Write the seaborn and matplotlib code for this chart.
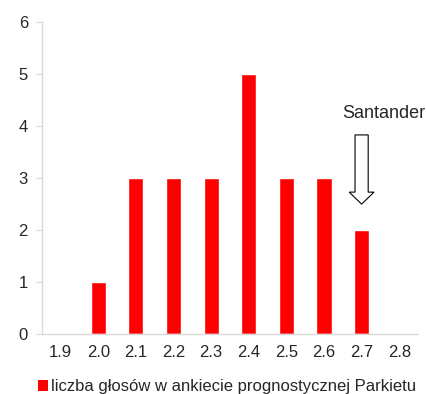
import matplotlib
matplotlib.use("Agg")
import matplotlib.pyplot as plt
import seaborn as sns
from matplotlib.patches import Patch, FancyArrow

# data
rates = ["1.9", "2.0", "2.1", "2.2", "2.3", "2.4", "2.5", "2.6", "2.7", "2.8"]
votes = [0, 1, 3, 3, 3, 5, 3, 3, 2, 0]
legend_label = "liczba głosów w ankiecie prognostycznej Parkietu"
marked_rate = "2.7"
marked_name = "Santander"

sns.set_style("white")
plt.rcParams['font.family'] = ['Liberation Sans', 'DejaVu Sans']

fig = plt.figure(figsize=(4.27, 3.94), dpi=100)
ax = fig.add_axes([0.098, 0.152, 0.881, 0.792])

sns.barplot(x=rates, y=votes, color="#ff0000", width=0.4, saturation=1, ax=ax)

ax.set_ylim(0, 6)
ax.set_xlim(-0.5, len(rates) - 0.5)
ax.set_yticks(range(0, 7))

for s in ["top", "right"]:
    ax.spines[s].set_visible(False)
for s in ["left", "bottom"]:
    ax.spines[s].set_color("#d9d9d9")
    ax.spines[s].set_linewidth(1.0)

ax.tick_params(axis="y", length=4, color="#d9d9d9", pad=6, labelsize=12, left=True)
ax.tick_params(axis="x", length=0, pad=8, labelsize=12)
ax.set_xlabel("")
ax.set_ylabel("")

# hollow arrow pointing at the Santander bar
i = rates.index(marked_rate)
v = votes[i]
arrow = FancyArrow(i, v + 1.83, 0, -1.33, width=0.35, head_width=0.66,
                   head_length=0.23, length_includes_head=True,
                   facecolor="white", edgecolor="black", linewidth=0.8)
ax.add_patch(arrow)
ax.text(i + 0.59, v + 2.25, marked_name, fontsize=13, ha="center", va="center")

handle = Patch(facecolor="#ff0000", edgecolor="none")
fig.legend([handle], [legend_label], loc="center left",
           bbox_to_anchor=(0.089, 0.018), frameon=False, fontsize=12,
           handlelength=0.6, handleheight=0.6, handletextpad=0.2,
           borderpad=0, borderaxespad=0)

fig.savefig("out.png", dpi=100)
